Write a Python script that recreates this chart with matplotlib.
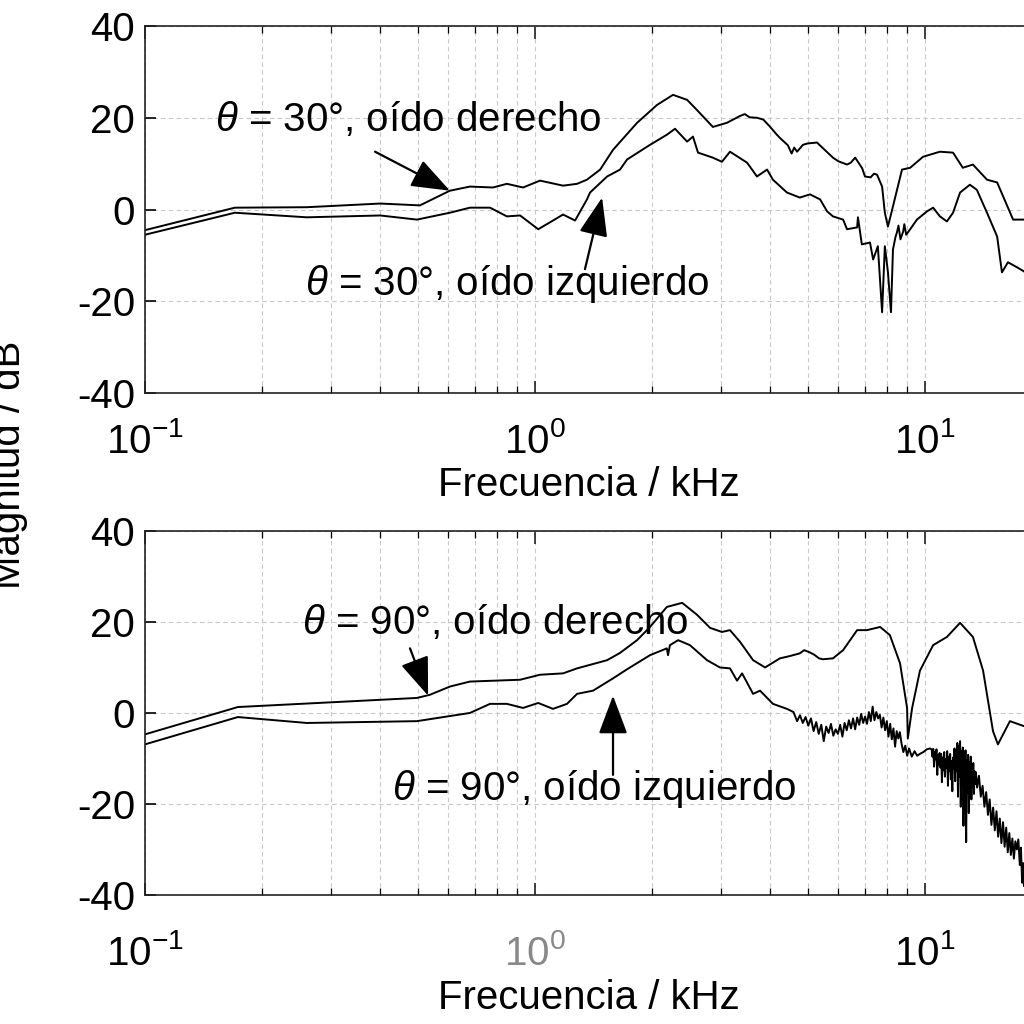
import matplotlib
matplotlib.use("Agg")
import matplotlib.pyplot as plt
from matplotlib.ticker import LogLocator, LogFormatterSciNotation, NullFormatter

plt.rcParams['font.family'] = ['Liberation Sans', 'DejaVu Sans']
plt.rcParams['mathtext.fontset'] = 'custom'
plt.rcParams['mathtext.rm'] = 'Liberation Sans'
plt.rcParams['mathtext.it'] = 'Liberation Sans:italic'
plt.rcParams['mathtext.bf'] = 'Liberation Sans:bold'
plt.rcParams['axes.unicode_minus'] = False

# ---------------- data (kHz, dB) ----------------
f_top_der = [0.1, 0.170, 0.260, 0.401, 0.507, 0.605, 0.681, 0.780, 0.847, 0.932, 1.030, 1.180,
             1.282, 1.359, 1.469, 1.585, 1.827, 2.056, 2.259, 2.455, 2.601, 2.858, 3.105, 3.357,
             3.45, 3.55, 3.707, 3.85, 4.009, 4.15, 4.246, 4.45, 4.55, 4.62, 4.698, 4.864, 5.0,
             5.285, 5.5, 5.808, 6.0, 6.310, 6.45, 6.622, 6.9, 7.015, 7.25, 7.4, 7.534, 7.762,
             7.889, 8.035, 8.277, 8.730, 9.162, 9.886, 10.92, 11.80, 12.50, 13.27, 14.42, 15.31,
             16.82, 17.94]
db_top_der = [-4.5, 0.4, 0.5, 1.3, 0.9, 4.1, 5.0, 4.8, 5.6, 4.8, 6.3, 5.2,
              5.6, 6.5, 8.7, 13.0, 18.9, 22.8, 25.0, 23.9, 21.7, 18.0, 18.9, 20.4,
              20.8, 20.1, 20.0, 19.6, 18.0, 16.5, 15.6, 14.0, 12.2, 13.5, 12.6, 14.1, 14.4,
              14.6, 13.2, 11.3, 10.5, 9.8, 10.2, 11.3, 9.0, 7.2, 7.0, 7.8, 7.6, 5.0,
              -0.7, -3.7, 0.7, 8.7, 9.1, 11.5, 12.6, 12.4, 9.1, 9.8, 6.5, 5.9,
              -2.2, -2.2]

f_top_izq = [0.1, 0.170, 0.260, 0.401, 0.498, 0.605, 0.681, 0.767, 0.847, 0.916, 1.019, 1.092,
             1.180, 1.267, 1.359, 1.384, 1.531, 1.652, 1.722, 1.972, 2.178, 2.286, 2.455, 2.541,
             2.618, 2.858, 3.015, 3.162, 3.499, 3.707, 3.936, 4.074, 4.426, 4.775, 5.070, 5.383,
             5.610, 5.808, 6.166, 6.310, 6.698, 6.730, 6.887, 7.227, 7.362, 7.570, 7.762, 7.889,
             8.035, 8.180, 8.277, 8.40, 8.472, 8.55, 8.65, 8.790, 8.85, 8.95, 9.162, 9.533,
             10.12, 10.49, 10.92, 11.38, 11.80, 12.30, 13.03, 13.58, 14.42, 15.31, 15.75, 16.32,
             17.22, 17.94]
db_top_izq = [-5.5, -0.7, -1.7, -1.3, -2.2, -0.7, 0.4, 0.4, -1.5, -1.3, -4.3, -2.8,
              -1.1, -2.4, 2.2, 3.7, 7.2, 8.7, 10.9, 14.1, 16.3, 17.6, 14.8, 15.9,
              12.4, 11.3, 10.4, 12.6, 10.2, 7.2, 8.7, 6.5, 3.7, 2.6, 3.3, 2.2,
              -0.4, -1.5, -2.2, -4.3, -3.9, -1.7, -7.6, -7.2, -10.9, -8.0, -22.4, -8.0,
              -13.7, -22.4, -8.7, -6.0, -5.0, -3.5, -6.5, -4.8, -3.2, -5.5, -4.3, -2.2,
              -0.4, 0.4, -1.5, -2.6, -0.7, 3.7, 5.4, 4.3, -0.7, -5.9, -13.7, -11.5,
              -12.6, -13.5]

f_bot_der = [0.1, 0.173, 0.498, 0.538, 0.605, 0.681, 0.916, 1.030, 1.180, 1.282, 1.531, 1.652,
             1.827, 1.972, 2.178, 2.384, 2.601, 2.811, 3.015, 3.162, 3.357, 3.624, 3.890, 4.246,
             4.5, 4.775, 4.9, 5.070, 5.2, 5.35, 5.470, 5.808, 6.166, 6.698, 7.096, 7.674,
             8.128, 8.630, 8.995, 9.036, 9.268, 9.706, 10.49, 11.38, 12.30, 13.27, 14.09, 14.94,
             15.38, 16.51, 17.94]
db_bot_der = [-4.7, 1.3, 3.3, 4.0, 5.8, 6.9, 7.3, 8.4, 8.7, 9.8, 11.6, 13.2,
              16.0, 18.9, 23.3, 24.2, 21.6, 18.7, 17.8, 18.2, 15.6, 11.6, 10.0, 12.0,
              12.5, 13.1, 13.8, 13.3, 12.8, 12.0, 11.8, 12.0, 13.8, 18.2, 18.2, 18.9,
              17.1, 10.9, 1.1, -5.6, 1.1, 9.3, 14.9, 16.7, 19.8, 16.7, 9.3, -4.0,
              -6.9, -1.8, -2.9]

f_bot_izq = [0.1, 0.173, 0.260, 0.498, 0.681, 0.767, 0.847, 0.932, 1.019, 1.112, 1.208, 1.282,
             1.409, 1.585, 1.722, 1.972, 2.178, 2.193, 2.218, 2.328, 2.496, 2.761, 2.979, 3.162,
             3.296, 3.396, 3.624, 3.776, 4.074, 4.426,
             4.60, 4.70, 4.78, 4.86, 4.94, 5.02, 5.10, 5.18, 5.26, 5.34, 5.42, 5.50,
             5.58, 5.66, 5.74, 5.82, 5.90, 5.98, 6.06, 6.14, 6.22, 6.30, 6.38, 6.46,
             6.54, 6.62, 6.70, 6.78, 6.86, 6.94, 7.02, 7.10, 7.18, 7.26, 7.34, 7.42,
             7.50, 7.58, 7.66, 7.74, 7.82, 7.90, 7.98, 8.06, 8.14, 8.22, 8.30, 8.38,
             8.46, 8.54, 8.62, 8.70, 8.80, 8.90, 9.00, 9.10, 9.25, 9.40, 9.55, 9.70,
             9.90, 10.10, 10.30,
             10.40, 10.45, 10.50, 10.55, 10.60, 10.65, 10.70, 10.75, 10.80, 10.85, 10.90, 10.95,
             11.00, 11.05, 11.10, 11.15, 11.20, 11.25, 11.30, 11.35, 11.40, 11.45, 11.50, 11.55,
             11.60, 11.65, 11.70, 11.75, 11.80, 11.85, 11.90, 11.95, 12.00, 12.05, 12.10, 12.15,
             12.20, 12.25, 12.30, 12.35, 12.40, 12.45, 12.50, 12.55, 12.60, 12.65, 12.70, 12.75,
             12.80, 12.85, 12.90, 12.95, 13.00, 13.05, 13.10, 13.15, 13.20, 13.25, 13.30, 13.35,
             13.40, 13.45, 13.50,
             13.60, 13.75, 13.90, 14.05, 14.20, 14.35, 14.50, 14.65, 14.80, 14.95, 15.10, 15.25,
             15.40, 15.55, 15.70, 15.85, 16.00, 16.15, 16.30, 16.45, 16.60, 16.75, 16.90, 17.05,
             17.20, 17.35, 17.50, 17.62, 17.74, 17.85, 17.94]
db_bot_izq = [-6.9, -0.9, -2.2, -1.8, 0.0, 2.0, 2.0, 1.1, 2.2, 0.9, 2.0, 4.2,
              4.9, 7.6, 9.6, 12.7, 14.2, 12.7, 14.9, 16.0, 14.9, 11.6, 10.0, 9.8,
              7.1, 8.7, 4.2, 4.9, 2.0, 0.9,
              0.2, -1.8, -0.5, -2.2, -0.9, -2.8, -1.2, -4.0, -2.0, -4.6, -2.6, -6.2,
              -3.0, -4.4, -2.4, -5.0, -3.6, -4.6, -2.6, -5.2, -2.2, -3.8, -1.6, -3.4,
              -1.2, -3.6, -1.0, -2.6, -0.2, -2.2, -0.8, -2.4, 0.2, -1.8, 1.4, -1.6,
              0.2, -1.2, -0.4, -3.2, -1.0, -3.8, -1.8, -5.2, -2.4, -5.8, -3.4, -7.4,
              -4.0, -5.6, -4.2, -6.6, -8.6, -7.2, -9.4, -7.8, -9.6, -8.4, -9.4, -9.0,
              -8.6, -8.0, -7.8,
              -8.0, -9.6, -7.9, -11.8, -8.6, -10.2, -8.0, -13.6, -9.2, -11.4, -8.8, -12.0,
              -9.0, -15.2, -9.8, -12.6, -8.6, -14.0, -10.2, -12.0, -8.4, -16.0, -9.6, -12.8,
              -9.0, -14.6, -10.6, -17.2, -9.8, -12.2, -7.8, -15.0, -8.2, -12.8, -6.6, -18.4,
              -7.2, -14.0, -6.2, -20.6, -8.4, -16.0, -7.6, -24.8, -9.0, -15.2, -8.2, -28.4,
              -10.4, -17.6, -9.2, -22.0, -10.8, -15.6, -9.6, -19.0, -11.4, -16.2, -11.0, -17.8,
              -12.8, -15.6, -13.0,
              -16.4, -13.8, -18.4, -16.0, -20.6, -17.4, -22.4, -19.0, -24.6, -20.8, -25.8, -21.6,
              -27.2, -23.2, -28.6, -24.0, -29.4, -25.2, -30.6, -26.4, -31.2, -27.6, -32.0, -28.2,
              -30.0, -27.8, -33.4, -29.6, -37.3, -33.0, -38.0]

yticks = [-40, -20, 0, 20, 40]
ytick_labels = ['-40', '-20', '0', '20', '40']
x_range = (0.1, 17.94)

top_labels = [r'$\theta$ = 30°, oído derecho', r'$\theta$ = 30°, oído izquierdo']
bot_labels = [r'$\theta$ = 90°, oído derecho', r'$\theta$ = 90°, oído izquierdo']
xlabel_text = 'Frecuencia / kHz'
ylabel_text = 'Magnitud / dB'

# ---------------- figure ----------------
fig = plt.figure(figsize=(10.24, 10.24), dpi=100)
ax1 = fig.add_axes([0.1416, 0.6162, 0.8584, 0.3584])
ax2 = fig.add_axes([0.1416, 0.1260, 0.8584, 0.3555])

FS = 29
LW = 1.4

def style(ax, pad):
    ax.set_xscale('log')
    ax.set_xlim(*x_range)
    ax.set_ylim(-40, 40)
    ax.set_yticks(yticks)
    ax.set_yticklabels(ytick_labels)
    ax.xaxis.set_major_locator(LogLocator(base=10))
    ax.xaxis.set_major_formatter(LogFormatterSciNotation(base=10))
    ax.xaxis.set_minor_locator(LogLocator(base=10, subs=range(2, 10)))
    ax.xaxis.set_minor_formatter(NullFormatter())
    ax.spines['right'].set_visible(False)
    for s in ['left', 'top', 'bottom']:
        ax.spines[s].set_linewidth(1.2)
        ax.spines[s].set_color('#222222')
    ax.tick_params(axis='x', which='major', direction='in', length=9, width=1.2,
                   top=True, bottom=True, labelsize=FS, pad=pad, colors='#222222', labelcolor='black')
    ax.tick_params(axis='x', which='minor', direction='in', length=5, width=0.9,
                   top=True, bottom=True)
    ax.tick_params(axis='y', which='major', direction='in', length=8, width=1.2,
                   right=False, labelsize=FS, pad=7)
    ax.grid(True, which='major', axis='both', color='#c8c8c8', linestyle=(0, (4, 3)), linewidth=0.8)
    ax.grid(True, which='minor', axis='x', color='#c8c8c8', linestyle=(0, (4, 3)), linewidth=0.8)
    ax.set_axisbelow(True)

style(ax1, 21)
style(ax2, 28)

ax1.plot(f_top_der, db_top_der, color='black', lw=LW)
ax1.plot(f_top_izq, db_top_izq, color='black', lw=LW)
ax2.plot(f_bot_der, db_bot_der, color='black', lw=LW)
ax2.plot(f_bot_izq, db_bot_izq, color='black', lw=LW)

arrow = dict(arrowstyle='-|>,head_length=1.2,head_width=0.45', color='black', lw=1.6,
             mutation_scale=20, shrinkA=0, shrinkB=0)

ax1.annotate('', xy=(0.605, 4.1), xytext=(0.389, 12.6), arrowprops=arrow)
ax1.text(0.151, 19.6, top_labels[0], fontsize=FS, ha='left', va='center')
ax1.annotate('', xy=(1.486, 2.6), xytext=(1.343, -13.0), arrowprops=arrow)
ax1.text(0.257, -16.3, top_labels[1], fontsize=FS, ha='left', va='center')

ax2.annotate('', xy=(0.532, 3.8), xytext=(0.478, 14.2), arrowprops=arrow)
ax2.text(0.253, 19.8, bot_labels[0], fontsize=FS, ha='left', va='center')
ax2.annotate('', xy=(1.585, 3.8), xytext=(1.585, -13.6), arrowprops=arrow)
ax2.text(0.430, -16.7, bot_labels[1], fontsize=FS, ha='left', va='center')

ax1.text(0.505, -0.251, xlabel_text, transform=ax1.transAxes, fontsize=FS, ha='center', va='center')
ax2.text(0.505, -0.283, xlabel_text, transform=ax2.transAxes, fontsize=FS, ha='center', va='center')

fig.text(28 / 1024, 0.546, ylabel_text, rotation=90, fontsize=FS, ha='right', va='center')

# gray 10^0 label in lower plot
fig.canvas.draw()
for lbl in ax2.get_xticklabels():
    if '{0}' in lbl.get_text():
        lbl.set_color('#888888')

fig.savefig('out.png', dpi=100, facecolor='white')
